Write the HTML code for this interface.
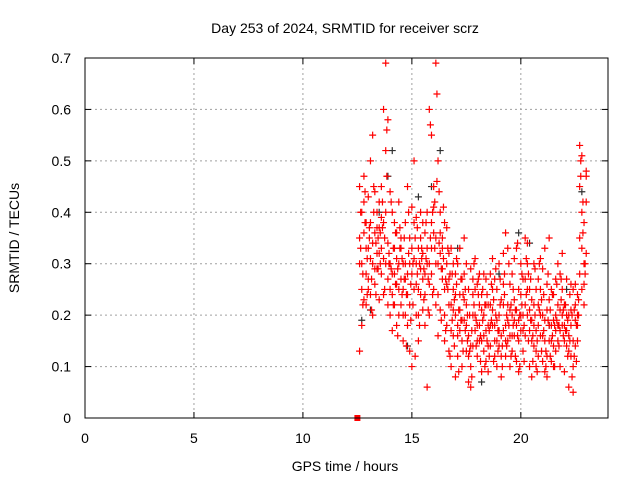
<!DOCTYPE html>
<html><head><meta charset="utf-8"><style>
body{margin:0;background:#fff}
svg text{font-family:"Liberation Sans",sans-serif;font-size:14px;fill:#000}
</style></head><body>
<svg id="c" width="640" height="480" xmlns="http://www.w3.org/2000/svg">
<text x="345" y="33" text-anchor="middle">Day 253 of 2024, SRMTID for receiver scrz</text>
<text x="345" y="471" text-anchor="middle">GPS time / hours</text>
<text transform="translate(19,238) rotate(-90)" text-anchor="middle">SRMTID / TECUs</text>
<g id="grid"></g><g id="marks"></g>
<rect x="85" y="58" width="523" height="360" fill="none" stroke="#000"/>
</svg>
<script>
const xTicks=[0,5,10,15,20];
const yTicks=[0,0.1,0.2,0.3,0.4,0.5,0.6,0.7];
const yTickLabels=["0","0.1","0.2","0.3","0.4","0.5","0.6","0.7"];
const times=[12.6,12.7,12.8,12.9,13.0,13.1,13.2,13.3,13.4,13.5,13.6,13.7,13.8,13.9,14.0,14.1,14.2,14.3,14.4,14.5,14.6,14.7,14.8,14.9,15.0,15.1,15.2,15.3,15.4,15.5,15.6,15.7,15.8,15.9,16.0,16.1,16.2,16.3,16.4,16.5,16.6,16.7,16.8,16.9,17.0,17.1,17.2,17.3,17.4,17.5,17.6,17.7,17.8,17.9,18.0,18.1,18.2,18.3,18.4,18.5,18.6,18.7,18.8,18.9,19.0,19.1,19.2,19.3,19.4,19.5,19.6,19.7,19.8,19.9,20.0,20.1,20.2,20.3,20.4,20.5,20.6,20.7,20.8,20.9,21.0,21.1,21.2,21.3,21.4,21.5,21.6,21.7,21.8,21.9,22.0,22.1,22.2,22.3,22.4,22.5,22.6,22.7,22.8,22.9,23.0];
const redA=[.35,.30,.42,.28,.33,.38,.30,.36,.40,.32,.45,.38,.52,.34,.30,.28,.33,.26,.30,.35,.25,.30,.28,.22,.33,.38,.30,.25,.35,.32,.28,.33,.30,.38,.41,.35,.30,.36,.33,.25,.30,.27,.22,.25,.20,.18,.24,.15,.28,.22,.12,.10,.20,.25,.18,.22,.15,.20,.17,.14,.22,.25,.18,.15,.20,.12,.26,.18,.22,.16,.20,.23,.18,.15,.24,.20,.27,.30,.17,.15,.22,.13,.18,.25,.20,.15,.12,.23,.18,.14,.20,.22,.17,.25,.15,.20,.13,.18,.10,.19,.18,.45,.40,.30,.48];
const redB=[.45,.40,.47,.38,.43,.50,.55,.44,.37,.42,.39,.60,.69,.58,.44,.40,.38,.36,.42,.33,.30,.38,.45,.35,.41,.50,.39,.33,.40,.38,.36,.40,.60,.55,.45,.69,.50,.40,.35,.38,.37,.32,.33,.30,.28,.30,.33,.27,.35,.30,.25,.29,.27,.31,.26,.28,.24,.28,.27,.22,.28,.31,.27,.25,.30,.23,.32,.36,.33,.26,.28,.31,.33,.25,.30,.27,.35,.34,.25,.23,.30,.25,.27,.31,.29,.33,.26,.35,.25,.24,.27,.30,.28,.32,.22,.27,.20,.26,.25,.26,.24,.53,.51,.38,.47];
const redC=[.13,.18,.23,.22,.25,.24,.20,.26,.29,.23,.28,.24,.30,.22,.20,.17,.22,.18,.20,.22,.15,.20,.18,.13,.10,.25,.20,.15,.24,.21,.18,.06,.20,.28,.25,.22,.16,.21,.27,.15,.18,.13,.10,.16,.08,.12,.17,.10,.19,.13,.07,.06,.14,.17,.12,.15,.09,.13,.11,.09,.14,.18,.12,.10,.14,.08,.17,.12,.15,.10,.13,.16,.11,.09,.17,.13,.16,.20,.10,.08,.14,.10,.12,.16,.11,.09,.08,.15,.11,.10,.13,.15,.10,.18,.09,.14,.06,.12,.05,.14,.15,.28,.25,.22,.32];
const redD=[.30,.25,.36,.33,.27,.31,.34,.29,.32,.37,.33,.31,.40,.27,.25,.24,.28,.31,.25,.27,.20,.27,.24,.30,.28,.31,.26,.20,.29,.27,.24,.30,.26,.33,.36,.30,.24,.32,.29,.20,.26,.22,.17,.21,.24,.16,.21,.19,.23,.18,.16,.14,.24,.20,.15,.18,.21,.16,.22,.18,.18,.21,.15,.19,.17,.16,.22,.15,.19,.21,.16,.19,.21,.19,.20,.17,.22,.25,.21,.19,.18,.17,.22,.20,.16,.19,.21,.18,.15,.19,.17,.18,.21,.20,.18,.17,.16,.21,.15,.22,.20,.35,.33,.26,.42];
const times2=[12.65,12.75,12.85,12.95,13.05,13.15,13.25,13.35,13.45,13.55,13.65,13.75,13.85,13.95,14.05,14.15,14.25,14.35,14.45,14.55,14.65,14.75,14.85,14.95,15.05,15.15,15.25,15.35,15.45,15.55,15.65,15.75,15.85,15.95,16.05,16.15,16.25,16.35,16.45,16.55,16.65,16.75,16.85,16.95,17.05,17.15,17.25,17.35,17.45,17.55,17.65,17.75,17.85,17.95,18.05,18.15,18.25,18.35,18.45,18.55,18.65,18.75,18.85,18.95,19.05,19.15,19.25,19.35,19.45,19.55,19.65,19.75,19.85,19.95,20.05,20.15,20.25,20.35,20.45,20.55,20.65,20.75,20.85,20.95,21.05,21.15,21.25,21.35,21.45,21.55,21.65,21.75,21.85,21.95,22.05,22.15,22.25,22.35,22.45,22.55,22.65,22.75,22.85,22.95];
const redE=[.33,.28,.38,.31,.35,.27,.40,.34,.29,.36,.42,.35,.47,.30,.29,.33,.26,.29,.37,.31,.27,.24,.32,.26,.22,.35,.28,.30,.33,.29,.31,.27,.35,.40,.33,.46,.34,.29,.31,.27,.25,.28,.19,.23,.26,.21,.19,.24,.17,.20,.13,.17,.22,.19,.24,.16,.19,.22,.15,.17,.19,.23,.20,.17,.22,.14,.24,.20,.18,.22,.18,.21,.16,.20,.22,.18,.24,.28,.19,.16,.20,.15,.21,.23,.17,.13,.19,.21,.16,.18,.19,.18,.23,.21,.17,.19,.15,.20,.12,.18,.20,.47,.36,.28];
const redF=[.40,.22,.44,.24,.37,.21,.45,.24,.35,.30,.37,.25,.56,.32,.42,.22,.36,.16,.33,.24,.35,.14,.40,.19,.30,.12,.37,.18,.31,.23,.38,.21,.57,.24,.42,.63,.44,.19,.41,.17,.33,.12,.28,.14,.31,.09,.27,.13,.25,.15,.20,.08,.30,.14,.27,.11,.25,.10,.24,.12,.26,.11,.29,.13,.27,.10,.28,.14,.30,.12,.25,.12,.34,.10,.28,.11,.31,.15,.27,.11,.29,.09,.30,.13,.24,.10,.28,.12,.24,.10,.26,.14,.27,.16,.22,.12,.24,.08,.21,.11,.23,.50,.42,.30];
const blackT=[12.7,13.1,13.5,13.9,14.1,14.8,15.3,15.9,16.3,17.1,18.2,19.0,19.9,20.4,21.3,22.1,22.8];
const blackV=[.19,.21,.40,.47,.52,.14,.43,.45,.52,.33,.07,.28,.36,.34,.18,.25,.44];
const zeroT=[12.5];const zeroV=[0];
const X=t=>85+t*(523/24), Y=v=>418-v*(360/0.7);
const NS="http://www.w3.org/2000/svg";
const g=document.getElementById('grid'),m=document.getElementById('marks');
function mk(tag,at,par){const e=document.createElementNS(NS,tag);for(const k in at)e.setAttribute(k,at[k]);par.appendChild(e);return e;}
xTicks.forEach(t=>{
  const l=mk('line',{x1:X(t),x2:X(t),y1:58,y2:418,stroke:'#a0a0a0','stroke-dasharray':'2,3'},g);
  
  
  mk('line',{x1:X(t),x2:X(t),y1:418,y2:412,stroke:'#000'},g);
  mk('line',{x1:X(t),x2:X(t),y1:58,y2:64,stroke:'#000'},g);
  const tx=mk('text',{x:X(t),y:443,'text-anchor':'middle'},g);tx.textContent=t;
  
  
});
yTicks.forEach((v,i)=>{
  const l=mk('line',{x1:85,x2:608,y1:Y(v),y2:Y(v),stroke:'#a0a0a0','stroke-dasharray':'2,3'},g);
  
  
  mk('line',{x1:85,x2:91,y1:Y(v),y2:Y(v),stroke:'#000'},g);
  mk('line',{x1:602,x2:608,y1:Y(v),y2:Y(v),stroke:'#000'},g);
  const tx=mk('text',{x:71,y:Y(v)+5,'text-anchor':'end'},g);tx.textContent=yTickLabels[i];
  
  
});
function plus(t,v,col,name){
  const x=X(t),y=Y(v);
  const p=mk('path',{d:`M${x-3.5} ${y}H${x+3.5}M${x} ${y-3.5}V${y+3.5}`,stroke:col,'stroke-width':1.2,fill:'none'},m);
  
  
}
blackT.forEach((t,i)=>plus(t,blackV[i],'#303030','black-point'));
[redA,redB,redC,redD].forEach(s=>times.forEach((t,i)=>plus(t,s[i],'#ff0000','red-point')));
[redE,redF].forEach(s=>times2.forEach((t,i)=>plus(t,s[i],'#ff0000','red-point')));
zeroT.forEach((t,i)=>{const r=mk('rect',{x:X(t)-3,y:Y(zeroV[i])-3,width:6,height:6,fill:'#ff0000'},m);
  
  });
</script>
</body></html>
